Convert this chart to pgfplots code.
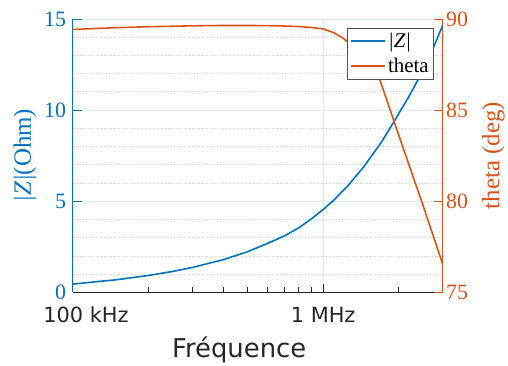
\documentclass[border=0pt]{standalone}
\usepackage{pgfplots}
\pgfplotsset{compat=1.18}
\usepackage{fontspec}
\setmainfont{Liberation Serif}
\newfontfamily\xfont{DejaVu Sans}
\newfontfamily\tfont{Liberation Serif}
\definecolor{zblue}{RGB}{0,114,189}
\definecolor{torange}{RGB}{217,83,25}
\definecolor{axgray}{RGB}{38,38,38}
\definecolor{gridblue}{RGB}{217,234,245}
\definecolor{gridminor}{RGB}{200,212,222}

\pgfplotstableread{
x y
1e5 0.46
1.5e5 0.70
2e5 0.93
2.5e5 1.15
3e5 1.37
4e5 1.80
5e5 2.24
6e5 2.69
7e5 3.10
8e5 3.55
9e5 4.05
1e6 4.55
1.1e6 5.05
1.25e6 5.82
1.45e6 6.88
1.7e6 8.20
1.9e6 9.28
2.2e6 10.75
2.5e6 12.15
2.75e6 13.40
3e6 14.65
}\zdata

\pgfplotstableread{
x y
1e5 89.42
1.5e5 89.52
2e5 89.57
3e5 89.62
4e5 89.64
5e5 89.64
6e5 89.63
7e5 89.61
8e5 89.58
9e5 89.53
1e6 89.45
1.1e6 89.25
1.2e6 88.95
1.35e6 88.35
1.55e6 88.07
1.7e6 86.50
2e6 83.65
2.5e6 79.80
3e6 76.55
}\thetadata

\begin{document}
\begin{tikzpicture}
\begin{axis}[
  name=ax1,
  scale only axis, width=372pt, height=275pt,
  xmode=log, xmin=1e5, xmax=3e6,
  ymin=0, ymax=15,
  axis x line*=bottom, axis y line*=left,
  x axis line style={-, axgray, line width=0.8pt},
  y axis line style={-, zblue, line width=0.8pt},
  xtick={1e5,1e6},
  xticklabels={\hspace*{27pt}100 kHz, 1 MHz},
  minor xtick={2e5,3e5,4e5,5e5,6e5,7e5,8e5,9e5,2e6},
  xtick pos=bottom, ytick pos=left,
  tick align=inside,
  major tick length=9pt, minor tick length=5.5pt,
  xtick style={axgray, line width=0.8pt},
  ytick={0,5,10,15},
  yticklabels={{\tfont 0},{\tfont 5},{\tfont 10},{\tfont 15}},
  ytick style={zblue, line width=0.8pt},
  extra y ticks={1,2,3,4,6,7,8,9,11,12,13,14},
  extra y tick labels={},
  extra y tick style={major tick length=0pt, ymajorgrids=true,
     major grid style={gridminor, dotted, line width=0.8pt}},
  xmajorgrids=true, ymajorgrids=true,
  major grid style={gridblue, line width=0.6pt},
  yticklabel style={zblue, font=\tfont\fontsize{22}{24}\selectfont, xshift=-3pt},
  xticklabel style={axgray, font=\xfont\fontsize{21}{24}\selectfont, yshift=-11pt},
  ylabel={\textit{\textbar Z\textbar}(Ohm)},
  every axis y label/.style={at={(axis description cs:-0.129,0.5)}, rotate=90, anchor=center, zblue, font=\tfont\fontsize{25}{28}\selectfont},
  xlabel={Fréquence},
  every axis x label/.style={at={(axis description cs:0.45,-0.236)}, anchor=base, font=\xfont\fontsize{26}{30}\selectfont, axgray},
]
\end{axis}
\begin{axis}[
  at={(ax1.south west)}, anchor=south west,
  scale only axis, width=372pt, height=275pt,
  xmode=log, xmin=1e5, xmax=3e6,
  ymin=75, ymax=90,
  axis x line=none, axis y line*=right,
  y axis line style={-, torange, line width=0.8pt},
  ytick={75,80,85,90},
  yticklabels={{\tfont 75},{\tfont 80},{\tfont 85},{\tfont 90}},
  ytick pos=right,
  tick align=inside,
  major tick length=9pt,
  ytick style={torange, line width=0.8pt},
  yticklabel style={torange, font=\tfont\fontsize{22}{24}\selectfont},
  ylabel={theta (deg)},
  every axis y label/.style={at={(axis description cs:1.137,0.5)}, rotate=90, anchor=center, torange, font=\tfont\fontsize{25}{28}\selectfont},
  legend style={at={(axis description cs:0.976,0.967)}, anchor=north east,
     draw=axgray!80, fill=white,
     font=\tfont\fontsize{21}{23}\selectfont, row sep=5pt,
     inner xsep=3pt, inner ysep=3pt},
  legend cell align=left,
]
% |Z| (left axis, 0..15) drawn on this axis shifted onto 75..90
\addplot[color=zblue, line width=1.6pt, y filter/.expression={y+75},
  legend image code/.code={\draw[zblue, line width=1.6pt] (0pt,0pt) -- (34pt,0pt);}] table {\zdata};
\addlegendentry{\textit{\textbar Z\textbar}}
\addplot[color=torange, line width=1.6pt,
  legend image code/.code={\draw[torange, line width=1.6pt] (0pt,0pt) -- (34pt,0pt);}] table {\thetadata};
\addlegendentry{theta}
\end{axis}
\path (ax1.south west) ++(-73pt,-69pt) rectangle ++(508pt,363pt);
\end{tikzpicture}
\end{document}
